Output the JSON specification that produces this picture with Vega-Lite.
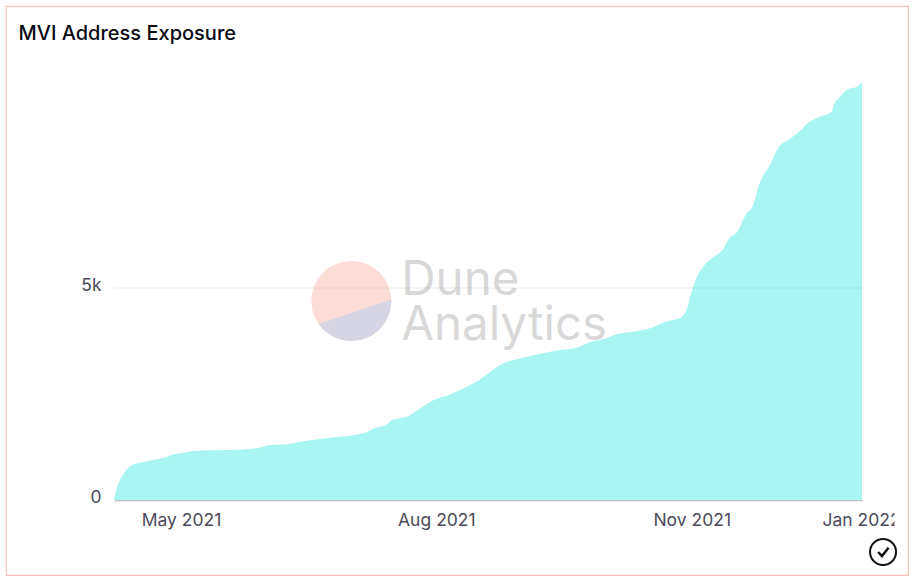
{
"$schema":"https://vega.github.io/schema/vega-lite/v6.json",
"width":902,"height":569,"autosize":"none",
"padding":{"left":6,"top":6,"right":4,"bottom":4},
"background":"white",
"view":{"stroke":"#ffbfb9","strokeWidth":1.2,"fill":"white"},
"title":{"text":"MVI Address Exposure","anchor":"start","frame":"group","offset":-38,"dx":12.5,"font":"Inter","fontSize":20,"fontWeight":500,"color":"#0a0a14"},
"datasets":{
"exposure":[
{"date":"2021-04-06T12:00:00Z","value":0},{"date":"2021-04-07T12:00:00Z","value":283},{"date":"2021-04-09","value":519},{"date":"2021-04-11","value":708},{"date":"2021-04-13","value":825},{"date":"2021-04-16","value":880},{"date":"2021-04-19","value":927},{"date":"2021-04-22","value":960},{"date":"2021-04-25","value":1007},{"date":"2021-04-27","value":1061},{"date":"2021-05-01","value":1108},{"date":"2021-05-05","value":1156},{"date":"2021-05-11","value":1172},{"date":"2021-05-18","value":1179},{"date":"2021-05-24","value":1196},{"date":"2021-05-30","value":1250},{"date":"2021-06-01","value":1290},{"date":"2021-06-08","value":1314},{"date":"2021-06-12","value":1368},{"date":"2021-06-19","value":1432},{"date":"2021-06-26","value":1486},{"date":"2021-07-02","value":1533},{"date":"2021-07-07","value":1611},{"date":"2021-07-09","value":1682},{"date":"2021-07-14","value":1792},{"date":"2021-07-15","value":1860},{"date":"2021-07-21T12:00:00Z","value":1981},{"date":"2021-07-26","value":2170},{"date":"2021-07-31T12:00:00Z","value":2382},{"date":"2021-08-04","value":2453},{"date":"2021-08-10","value":2618},{"date":"2021-08-16","value":2830},{"date":"2021-08-21T12:00:00Z","value":3090},{"date":"2021-08-25","value":3231},{"date":"2021-08-30","value":3325},{"date":"2021-09-05","value":3420},{"date":"2021-09-12","value":3514},{"date":"2021-09-21","value":3609},{"date":"2021-09-25","value":3726},{"date":"2021-09-30","value":3797},{"date":"2021-10-05","value":3915},{"date":"2021-10-10","value":3962},{"date":"2021-10-18","value":4080},{"date":"2021-10-22","value":4198},{"date":"2021-10-28","value":4316},{"date":"2021-10-30","value":4528},{"date":"2021-10-31T12:00:00Z","value":4882},{"date":"2021-11-02T12:00:00Z","value":5260},{"date":"2021-11-05","value":5519},{"date":"2021-11-08","value":5708},{"date":"2021-11-12","value":5920},{"date":"2021-11-14","value":6156},{"date":"2021-11-17","value":6321},{"date":"2021-11-20T12:00:00Z","value":6769},{"date":"2021-11-22T12:00:00Z","value":6910},{"date":"2021-11-25","value":7453},{"date":"2021-11-29","value":7925},{"date":"2021-12-02","value":8326},{"date":"2021-12-05T12:00:00Z","value":8491},{"date":"2021-12-10","value":8726},{"date":"2021-12-13","value":8915},{"date":"2021-12-16T12:00:00Z","value":9033},{"date":"2021-12-21","value":9151},{"date":"2021-12-22","value":9340},{"date":"2021-12-24","value":9505},{"date":"2021-12-27","value":9693},{"date":"2021-12-30","value":9741},{"date":"2022-01-01","value":9858}
],
"grid":[{"date":"2021-04-06T12:00:00Z","date2":"2022-01-01","value":5000}],
"logo":[{"date":"2021-07-01","value":4693}],
"wordmark":[{"date":"2021-07-19","value":4835,"label":"Dune"},{"date":"2021-07-19","value":3774,"label":"Analytics"}],
"badge":[{"date":"2022-01-08T14:00:00Z","value":-1226}],
"edge":[{"date":"2022-01-14T12:00:00Z","value":-472}]
},
"layer":[
{"data":{"name":"exposure"},"mark":{"type":"area","interpolate":"monotone","color":"#a9f5f2"},
"encoding":{
"x":{"field":"date","type":"temporal","title":null,"scale":{"type":"utc","domain":["2021-04-06T12:00:00Z","2022-01-01T00:00:00Z"],"range":[108,856]},
"axis":{"orient":"bottom","offset":-75,"values":[{"year":2021,"month":5,"date":1,"utc":true},{"year":2021,"month":8,"date":1,"utc":true},{"year":2021,"month":11,"date":1,"utc":true},{"year":2022,"month":1,"date":1,"utc":true}],"format":"%b %Y","ticks":false,"grid":false,"domain":true,"domainColor":"#bdbdbd","domainWidth":1.5,"labelFont":"Inter","labelFontSize":17.5,"labelColor":"#4a4a5c","labelPadding":11.5,"labelOffset":-1,"labelOverlap":false,"labelBound":false,"labelFlush":false}},
"y":{"field":"value","type":"quantitative","title":null,"scale":{"domain":[0,10000],"range":[494,70],"nice":false,"zero":false},
"axis":{"orient":"left","offset":-108,"values":[0,5000],"format":"~s","ticks":false,"grid":false,"domain":false,"labelFont":"Inter","labelFontSize":17.5,"labelColor":"#4a4a5c","labelPadding":13,"labelOffset":-2.5,"labelOverlap":false,"labelBound":false,"labelFlush":false,"labelExpr":"datum.value==0?'0':'5k'"}}
}},
{"data":{"name":"logo"},"mark":{"type":"point","shape":"circle","filled":true,"size":6400,"color":"#fcdcd6","opacity":1,"strokeWidth":0},
"encoding":{"x":{"field":"date","type":"temporal"},"y":{"field":"value","type":"quantitative"}}},
{"data":{"name":"logo"},"mark":{"type":"point","shape":"M0.999 -0.035L1 0L0.966 0.259L0.866 0.5L0.707 0.707L0.5 0.866L0.259 0.966L0 1L-0.259 0.966L-0.5 0.866L-0.707 0.707L-0.819 0.574Z","filled":true,"size":6400,"color":"#d5d5e4","opacity":1,"strokeWidth":0},
"encoding":{"x":{"field":"date","type":"temporal"},"y":{"field":"value","type":"quantitative"}}},
{"data":{"name":"wordmark"},"mark":{"type":"text","align":"left","baseline":"alphabetic","font":"Inter","fontSize":47.5,"color":"#000000","opacity":0.15},
"encoding":{"x":{"field":"date","type":"temporal"},"y":{"field":"value","type":"quantitative"},"text":{"field":"label"}}},
{"data":{"name":"grid"},"mark":{"type":"rule","color":"#000000","opacity":0.07,"strokeWidth":1},
"encoding":{"x":{"field":"date","type":"temporal"},"x2":{"field":"date2"},"y":{"field":"value","type":"quantitative"}}},
{"data":{"name":"edge"},"mark":{"type":"point","shape":"M-0.33 -1H0.33V1H-0.33Z","filled":true,"size":900,"color":"white","opacity":1},
"encoding":{"x":{"field":"date","type":"temporal"},"y":{"field":"value","type":"quantitative"}}},
{"data":{"name":"badge"},"mark":{"type":"point","shape":"circle","filled":false,"size":676,"color":"#111111","strokeWidth":2,"opacity":1},
"encoding":{"x":{"field":"date","type":"temporal"},"y":{"field":"value","type":"quantitative"}}},
{"data":{"name":"badge"},"mark":{"type":"point","shape":"M-0.38 0L-0.08 0.32L0.42 -0.32","filled":false,"size":676,"color":"#111111","strokeWidth":2.5,"opacity":1},
"encoding":{"x":{"field":"date","type":"temporal"},"y":{"field":"value","type":"quantitative"}}}
]
}
